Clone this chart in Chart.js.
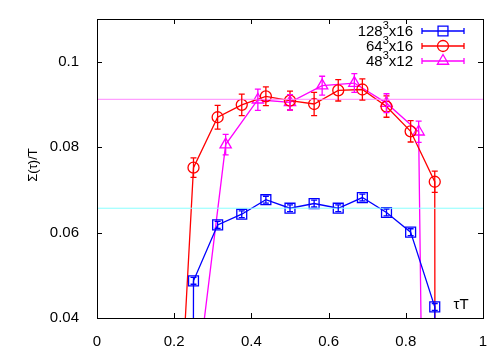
<!DOCTYPE html>
<html>
<head>
<meta charset="utf-8">
<script src="https://cdn.jsdelivr.net/npm/chart.js@4/dist/chart.umd.min.js"></script>
<style>
  html, body { margin: 0; padding: 0; background: #fff; }
</style>
</head>
<body>
<canvas id="myChart" width="498" height="349"></canvas>
<script>
// tau*T positions (Nt=16 and Nt=12), first/last points lie far off scale
const tau16 = [0.1875, 0.25, 0.3125, 0.375, 0.4375, 0.5, 0.5625, 0.625, 0.6875, 0.75, 0.8125, 0.875, 0.9375];
const tau12 = [0.25, 0.3333, 0.4167, 0.5, 0.5833, 0.6667, 0.75, 0.8333, 0.9167];

const val128 = [-3, 0.0487, 0.0618, 0.0643, 0.0677, 0.0657, 0.0668, 0.0657, 0.0682, 0.0647, 0.0601, 0.0426, -5];
const err128 = [0, 0.0008, 0.0008, 0.0008, 0.0008, 0.0008, 0.0008, 0.0008, 0.0008, 0.0008, 0.0008, 0.0008, 0];
const val64 = [-0.029, 0.0752, 0.0870, 0.0899, 0.0919, 0.0909, 0.0901, 0.0933, 0.0935, 0.0895, 0.0837, 0.0719, -5];
const err64 = [0, 0.0023, 0.0028, 0.0025, 0.0022, 0.0022, 0.0027, 0.0025, 0.0025, 0.0025, 0.0025, 0.0025, 0];
const val48 = [0.019, 0.0806, 0.0911, 0.0905, 0.0944, 0.0950, 0.0903, 0.0836, -0.52];
const err48 = [0, 0.0024, 0.0025, 0.0018, 0.0022, 0.0022, 0.0022, 0.0025, 0];

// horizontal reference levels
const level48 = 0.0912;
const level128 = 0.0657;

const seriesNames = [['128', '3', 'x16'], ['64', '3', 'x16'], ['48', '3', 'x12']];
const xTicks = [0, 0.2, 0.4, 0.6, 0.8, 1];
const xTickLabels = ['0', '0.2', '0.4', '0.6', '0.8', '1'];
const yTicks = [0.04, 0.06, 0.08, 0.1];
const yTickLabels = ['0.04', '0.06', '0.08', '0.1'];

const FONT = '"Liberation Sans", Arial, sans-serif';

function pts(xs, ys) {
  return xs.map((x, i) => ({ x: x, y: ys[i] }));
}

const series = [
  { color: '#0000ff', style: 'rect', radius: 7, x: tau16, y: val128, e: err128 },
  { color: '#ff0000', style: 'circle', radius: 5.5, x: tau16, y: val64, e: err64 },
  { color: '#ff00ff', style: 'triangle', radius: 6.5, x: tau12, y: val48, e: err48 }
];

const datasets = [
  { data: [{ x: 0, y: level48 }, { x: 1, y: level48 }], borderColor: '#ff88ff', borderWidth: 1, pointRadius: 0, fill: false },
  { data: [{ x: 0, y: level128 }, { x: 1, y: level128 }], borderColor: '#88ffff', borderWidth: 1, pointRadius: 0, fill: false }
];
series.forEach(s => {
  datasets.push({
    data: pts(s.x, s.y),
    borderColor: s.color,
    borderWidth: 1.3,
    pointStyle: s.style,
    pointRadius: s.radius,
    pointBorderColor: s.color,
    pointBackgroundColor: 'rgba(0,0,0,0)',
    pointBorderWidth: 1.3,
    fill: false,
    tension: 0
  });
});

function marker(ctx, style, r, x, y) {
  if (Chart.helpers && Chart.helpers.drawPoint) {
    Chart.helpers.drawPoint(ctx, { pointStyle: style, radius: r, rotation: 0, borderWidth: 1.3 }, x, y);
    return;
  }
  ctx.beginPath();
  ctx.arc(x, y, r, 0, Math.PI * 2);
  ctx.stroke();
}

const gnuplotLook = {
  id: 'gnuplotLook',
  afterDatasetsDraw(chart) {
    const ctx = chart.ctx;
    const xs = chart.scales.x, ys = chart.scales.y;
    const a = chart.chartArea;
    ctx.save();
    ctx.beginPath();
    ctx.rect(a.left, a.top, a.right - a.left, a.bottom - a.top);
    ctx.clip();
    ctx.lineWidth = 1.3;
    series.forEach(s => {
      ctx.strokeStyle = s.color;
      for (let i = 0; i < s.x.length; i++) {
        if (!s.e[i]) continue;
        const px = xs.getPixelForValue(s.x[i]);
        const y1 = ys.getPixelForValue(s.y[i] - s.e[i]);
        const y2 = ys.getPixelForValue(s.y[i] + s.e[i]);
        ctx.beginPath();
        ctx.moveTo(px, y1); ctx.lineTo(px, y2);
        ctx.moveTo(px - 3, y1); ctx.lineTo(px + 3, y1);
        ctx.moveTo(px - 3, y2); ctx.lineTo(px + 3, y2);
        ctx.stroke();
      }
    });
    ctx.restore();
  },
  afterDraw(chart) {
    const ctx = chart.ctx;
    const a = chart.chartArea;
    const xs = chart.scales.x, ys = chart.scales.y;
    ctx.save();
    // frame
    ctx.strokeStyle = '#000';
    ctx.lineWidth = 1;
    ctx.strokeRect(Math.round(a.left) + 0.5, Math.round(a.top) + 0.5, Math.round(a.right - a.left), Math.round(a.bottom - a.top));
    // inward ticks, mirrored
    ctx.beginPath();
    xTicks.forEach(v => {
      const px = Math.round(xs.getPixelForValue(v)) + 0.5;
      ctx.moveTo(px, a.bottom); ctx.lineTo(px, a.bottom - 5);
      ctx.moveTo(px, a.top); ctx.lineTo(px, a.top + 5);
    });
    yTicks.forEach(v => {
      const py = Math.round(ys.getPixelForValue(v)) + 0.5;
      ctx.moveTo(a.left, py); ctx.lineTo(a.left + 5, py);
      ctx.moveTo(a.right, py); ctx.lineTo(a.right - 5, py);
    });
    ctx.stroke();

    // axis titles
    ctx.fillStyle = '#000';
    ctx.font = '13px ' + FONT;
    ctx.textAlign = 'center';
    ctx.textBaseline = 'middle';
    ctx.save();
    ctx.translate(33, 165);
    ctx.rotate(-Math.PI / 2);
    ctx.fillText('\u03A3(\u03C4)/T', 0, 0);
    ctx.restore();
    ctx.font = '15px ' + FONT;
    ctx.fillText('\u03C4T', 461, 305);

    // legend
    const rowsY = [31, 46, 61];
    series.forEach((s, i) => {
      const y = rowsY[i];
      const parts = seriesNames[i];
      ctx.font = '15px ' + FONT;
      const w1 = ctx.measureText(parts[0]).width;
      const w3 = ctx.measureText(parts[2]).width;
      ctx.font = '11px ' + FONT;
      const w2 = ctx.measureText(parts[1]).width;
      let x = 413 - (w1 + w2 + w3);
      ctx.textAlign = 'left';
      ctx.textBaseline = 'middle';
      ctx.fillStyle = '#000';
      ctx.font = '15px ' + FONT;
      ctx.fillText(parts[0], x, y + 1);
      ctx.font = '11px ' + FONT;
      ctx.fillText(parts[1], x + w1, y - 5);
      ctx.font = '15px ' + FONT;
      ctx.fillText(parts[2], x + w1 + w2, y + 1);

      ctx.strokeStyle = s.color;
      ctx.lineWidth = 1.3;
      ctx.beginPath();
      ctx.moveTo(422, y); ctx.lineTo(464, y);
      ctx.moveTo(422, y - 3); ctx.lineTo(422, y + 3);
      ctx.moveTo(464, y - 3); ctx.lineTo(464, y + 3);
      ctx.stroke();
      ctx.fillStyle = 'rgba(0,0,0,0)';
      marker(ctx, s.style, s.radius, 443, y);
    });
    ctx.restore();
  }
};

const ctx = document.getElementById('myChart').getContext('2d');
const chart = new Chart(ctx, {
  type: 'line',
  data: { datasets: datasets },
  options: {
    responsive: false,
    animation: false,
    devicePixelRatio: 1,
    layout: { padding: { top: 17, right: 15, left: 0, bottom: 0 } },
    plugins: { legend: { display: false }, tooltip: { enabled: false } },
    scales: {
      x: {
        type: 'linear',
        min: 0, max: 1,
        grid: { display: false },
        border: { display: false },
        afterBuildTicks: s => { s.ticks = xTicks.map(v => ({ value: v })); },
        afterFit: s => { s.height = 31; },
        ticks: {
          padding: 7,
          maxRotation: 0,
          color: '#000',
          font: { family: FONT, size: 15 },
          callback: (v, i) => xTickLabels[i]
        }
      },
      y: {
        type: 'linear',
        min: 0.04, max: 0.11,
        grid: { display: false },
        border: { display: false },
        afterBuildTicks: s => { s.ticks = yTicks.map(v => ({ value: v })); },
        afterFit: s => { s.width = 97; },
        ticks: {
          padding: 10,
          color: '#000',
          font: { family: FONT, size: 15 },
          callback: (v, i) => yTickLabels[i]
        }
      }
    }
  },
  plugins: [gnuplotLook]
});
</script>
</body>
</html>
